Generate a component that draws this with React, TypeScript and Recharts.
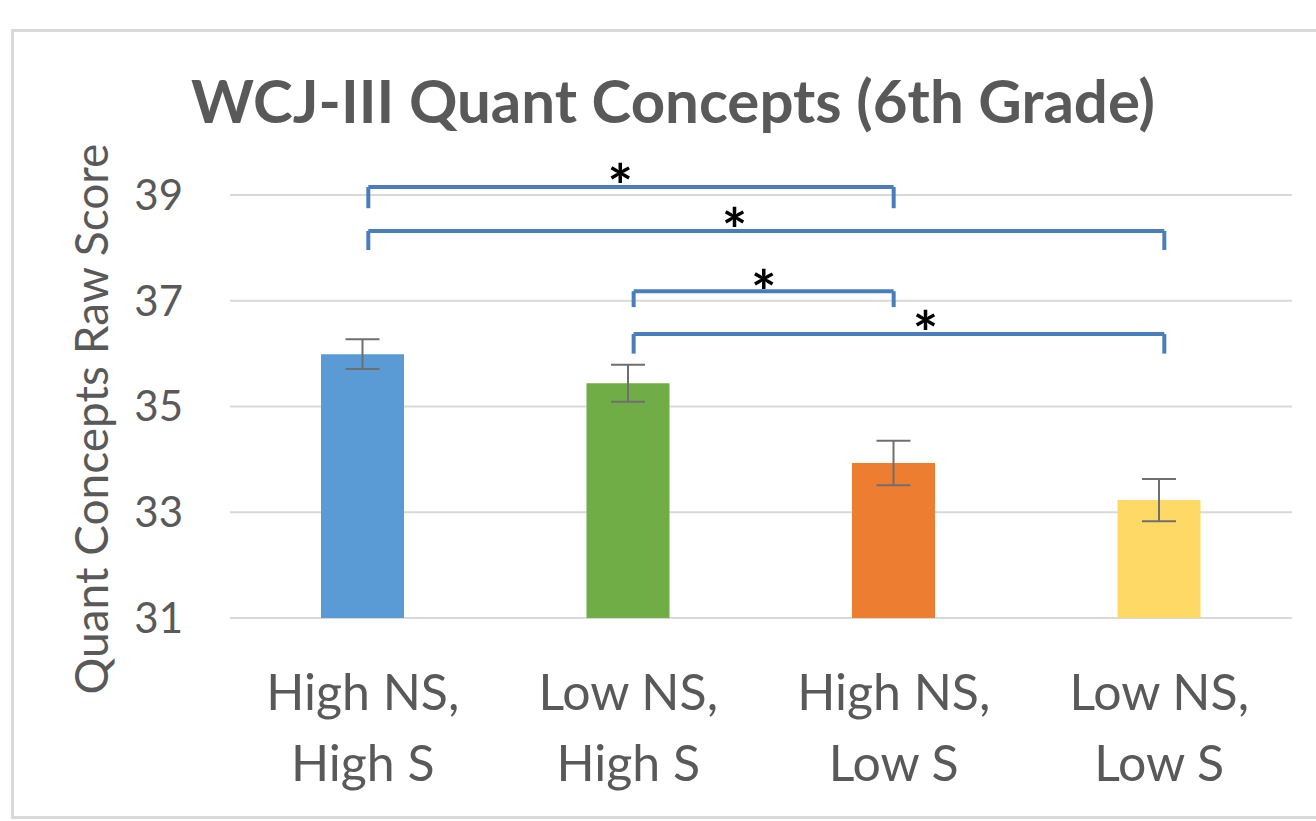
import React from 'react'
import { BarChart, Bar, XAxis, YAxis, CartesianGrid, Cell, ErrorBar, ReferenceLine, ReferenceDot } from 'recharts'

const groups = ['High NS,\nHigh S', 'Low NS,\nHigh S', 'High NS,\nLow S', 'Low NS,\nLow S']
const means = [35.99, 35.44, 33.93, 33.23]
const errors = [0.28, 0.35, 0.42, 0.4]
const colors = ['#5B9BD5', '#70AD47', '#ED7D31', '#FFD966']
const yTicks = [31, 33, 35, 37, 39]

// significance brackets, x in group-index units, y in score units
const brackets = [
  { from: 0.02, to: 2.0, top: 39.15, foot: 38.75 },
  { from: 0.02, to: 3.02, top: 38.32, foot: 37.96 },
  { from: 1.02, to: 2.0, top: 37.18, foot: 36.88 },
  { from: 1.02, to: 3.02, top: 36.37, foot: 36.0 },
]
const stars = [
  { x: 0.97, y: 39.44 },
  { x: 1.4, y: 38.6 },
  { x: 1.51, y: 37.43 },
  { x: 2.12, y: 36.65 },
]

const data = groups.map((g, i) => ({ group: g, mean: means[i], err: errors[i] }))

const TEXT = '#595959'
const FONT = 'Lato, "Open Sans", sans-serif'

function GroupTick(props: any) {
  const { x, y, payload } = props
  const lines = String(payload.value).split('\n')
  return (
    <g>
      {lines.map((l, i) => (
        <text key={i} x={x} y={y + 84 + i * 71} textAnchor="middle" fontSize={50} fill={TEXT} fontFamily={FONT}>
          {l}
        </text>
      ))}
    </g>
  )
}

function Star(props: any) {
  return (
    <text x={props.cx} y={props.cy + 36} textAnchor="middle" fontSize={60} fontWeight="bold" fill="#000" fontFamily={FONT}>
      *
    </text>
  )
}

export default function App() {
  const blue = '#4A7EBB'
  return (
    <div style={{ position: 'absolute', left: 0, top: 0, width: 1316, height: 821, background: '#fff', fontFamily: FONT }}>
      <div style={{ position: 'absolute', left: 11, top: 29, width: 1320, height: 790, border: '3px solid #d9d9d9', boxSizing: 'border-box' }} />
      <div style={{ position: 'absolute', left: 0, width: 1346, top: 64, textAlign: 'center', fontSize: 60, fontWeight: 'bold', color: TEXT }}>
        WCJ-III Quant Concepts (6th Grade)
      </div>
      <div
        style={{
          position: 'absolute', left: 91, top: 419, transform: 'translate(-50%, -50%) rotate(-90deg)',
          whiteSpace: 'nowrap', fontSize: 46, color: TEXT, lineHeight: 1,
        }}
      >
        Quant Concepts Raw Score
      </div>
      <BarChart width={1316} height={821} data={data} margin={{ top: 195, right: 24, bottom: 23, left: 0 }} barSize={83}>
        <CartesianGrid xAxisId="cat" vertical={false} stroke="#d9d9d9" strokeWidth={2} />
        <XAxis xAxisId="cat" dataKey="group" axisLine={false} tickLine={false} height={180} tick={<GroupTick />} interval={0} />
        <XAxis xAxisId="num" type="number" domain={[0, 3]} padding={{ left: 133, right: 133 }} hide allowDataOverflow />
        <YAxis
          domain={[31, 39]}
          ticks={yTicks}
          axisLine={false}
          tickLine={false}
          tickSize={0}
          tickMargin={47}
          width={230}
          tick={{ fontSize: 42, fill: TEXT, fontFamily: FONT }}
          allowDataOverflow
        />
        <Bar xAxisId="cat" dataKey="mean" isAnimationActive={false}>
          {data.map((_, i) => (
            <Cell key={i} fill={colors[i]} />
          ))}
          <ErrorBar dataKey="err" direction="y" width={17} stroke="#6f6f6f" strokeWidth={2} isAnimationActive={false} />
        </Bar>
        {brackets.flatMap((b, i) => [
          <ReferenceLine key={`l${i}`} xAxisId="num" ifOverflow="visible" stroke={blue} strokeWidth={4} segment={[{ x: b.from, y: b.foot }, { x: b.from, y: b.top }]} />,
          <ReferenceLine key={`t${i}`} xAxisId="num" ifOverflow="visible" stroke={blue} strokeWidth={4} segment={[{ x: b.from, y: b.top }, { x: b.to, y: b.top }]} />,
          <ReferenceLine key={`r${i}`} xAxisId="num" ifOverflow="visible" stroke={blue} strokeWidth={4} segment={[{ x: b.to, y: b.top }, { x: b.to, y: b.foot }]} />,
        ])}
        {stars.map((s, i) => (
          <ReferenceDot key={`s${i}`} xAxisId="num" ifOverflow="visible" x={s.x} y={s.y} r={0} shape={<Star />} />
        ))}
      </BarChart>
    </div>
  )
}
